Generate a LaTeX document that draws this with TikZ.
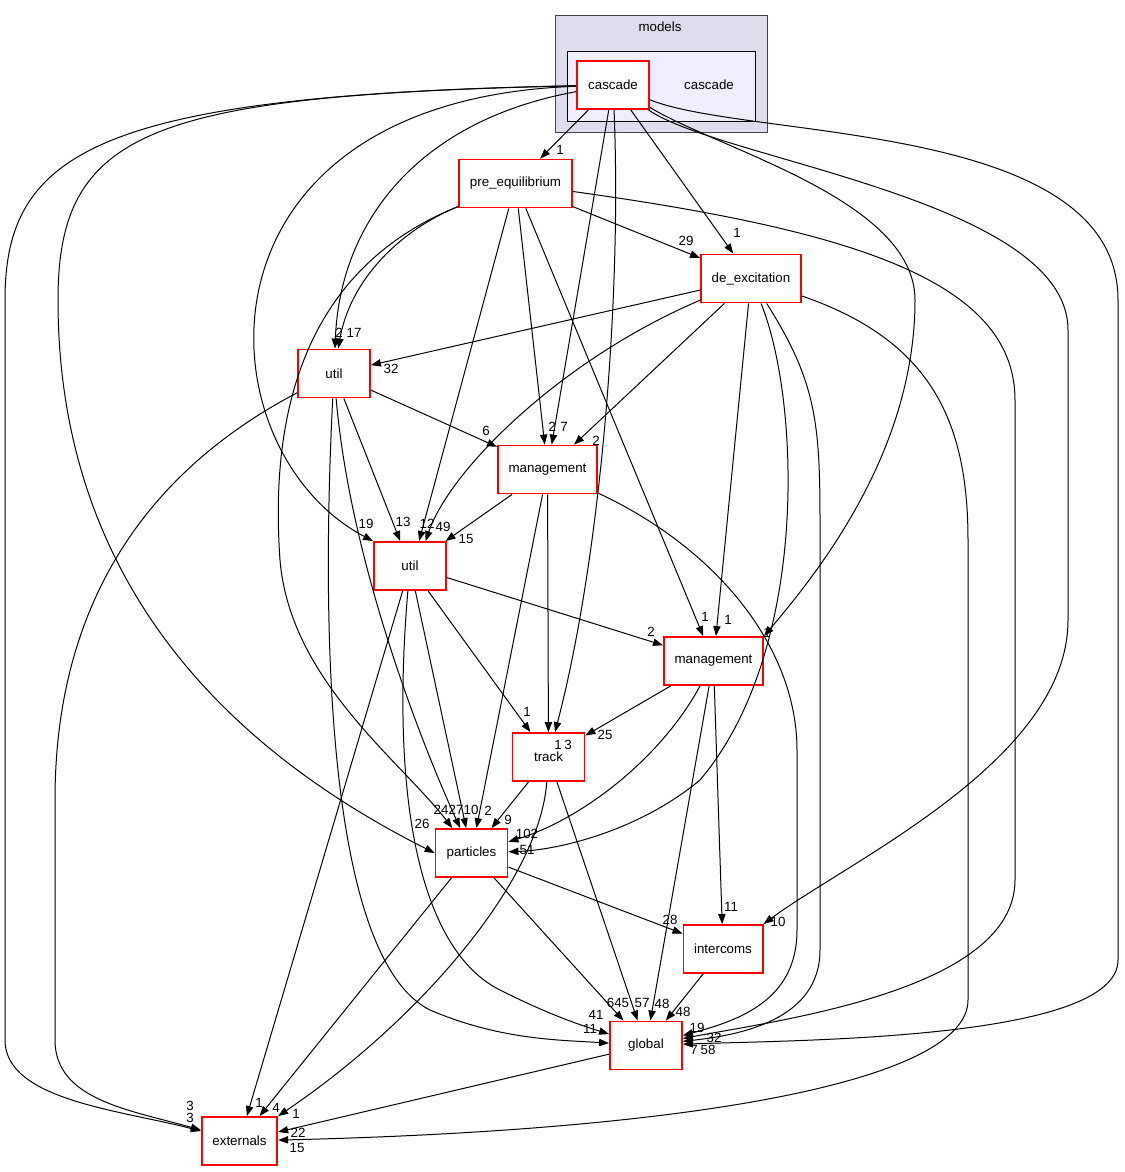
\documentclass[tikz,border=0pt]{standalone}
\usepackage{fontspec}
\setmainfont{Liberation Sans}
\usepackage{tikz}
\usetikzlibrary{arrows.meta}

\definecolor{modelsbg}{RGB}{221,221,238}
\definecolor{cascadebg}{RGB}{238,238,255}
\definecolor{clusterline}{RGB}{68,68,68}
\definecolor{dirline}{RGB}{255,0,0}

\begin{document}
\begin{tikzpicture}[x=0.75pt,y=-0.75pt,
    font=\fontsize{10}{12}\selectfont,
    dirbox/.style={draw=dirline,fill=white,line width=1.4pt,minimum width=54pt,minimum height=36pt,inner xsep=8pt},
    dep/.style={line width=0.75pt,-{Triangle[length=7.5pt,width=5.5pt]}},
    edgelbl/.style={inner sep=0pt}]
    \useasboundingbox (0,0) rectangle (1125,1172);
    \draw[clusterline,fill=modelsbg,line width=0.6pt] (555.5,15.5) rectangle (767.5,132.5);
    \node (modelslbl) at (660,27) {models};
    \draw[black,fill=cascadebg,line width=0.6pt] (567.5,51.5) rectangle (755.5,121.5);
    \node (cascadelbl) at (709,85) {cascade};
    \node[dirbox] (cascade) at (613,85) {cascade};
    \node[dirbox] (pre) at (515.5,183.5) {pre\_equilibrium};
    \node[dirbox] (deex) at (751,278.5) {de\_excitation};
    \node[dirbox] (utilA) at (334,373.5) {util};
    \node[dirbox] (mgmtA) at (547.5,469.5) {management};
    \node[dirbox] (utilB) at (410,566) {util};
    \node[dirbox] (mgmtB) at (713.5,661) {management};
    \node[dirbox] (track) at (548.5,757) {track};
    \node[dirbox] (particles) at (471.5,853) {particles};
    \node[dirbox] (intercoms) at (723,949) {intercoms};
    \node[dirbox] (global) at (646,1045.5) {global};
    \node[dirbox] (externals) at (239.5,1141) {externals};

    \draw[dep] (cascade) -- (pre) node[edgelbl] at (560,150) {1};
    \draw[dep] (cascade) -- (deex) node[edgelbl] at (737,233) {1};
    \draw[dep] (cascade) .. controls (420,120) and (340,220) .. (utilA) node[edgelbl] at (339,333) {2};
    \draw[dep] (cascade) -- (mgmtA) node[edgelbl] at (552,427) {2};
    \draw[dep] (cascade) .. controls (622,300) and (600,560) .. (track) node[edgelbl] at (568,745) {3};
    \draw[dep] (cascade) .. controls (180,100) and (200,450) .. (utilB.north west) node[edgelbl] at (366,524) {19};
    \draw[dep] (cascade) .. controls (150,95) and (58,130) .. (58,300) .. controls (58,600) and (250,760) .. (particles.west) node[edgelbl] at (422,824) {26};
    \draw[dep] (cascade) .. controls (100,95) and (5,150) .. (5,300) -- (5,1040) .. controls (5,1100) and (120,1110) .. (externals) node[edgelbl] at (190,1106) {3};
    \draw[dep] (cascade) .. controls (720,150) and (915,200) .. (915,300) .. controls (915,450) and (820,570) .. (mgmtB.north east) node[edgelbl] at (767,633) {1};
    \draw[dep] (cascade) .. controls (720,160) and (1068,200) .. (1068,330) -- (1068,620) .. controls (1068,760) and (850,860) .. (intercoms.north east) node[edgelbl] at (778,922) {10};
    \draw[dep] (cascade) .. controls (750,140) and (1118,120) .. (1118,300) -- (1118,960) .. controls (1118,1040) and (800,1040) .. (global) node[edgelbl] at (694,1050) {7};

    \draw[dep] (pre) -- (deex) node[edgelbl] at (686,241) {29};
    \draw[dep] (pre) .. controls (400,230) and (350,280) .. (utilA) node[edgelbl] at (354,333) {17};
    \draw[dep] (pre) -- (mgmtA) node[edgelbl] at (564,427) {7};
    \draw[dep] (pre) -- (utilB.70) node[edgelbl] at (427,524) {12};
    \draw[dep] (pre) -- (mgmtB) node[edgelbl] at (705,617) {1};
    \draw[dep] (pre) .. controls (300,270) and (270,420) .. (280,560) .. controls (290,680) and (400,760) .. (particles) node[edgelbl] at (441,810) {24};
    \draw[dep] (pre) .. controls (850,230) and (1015,280) .. (1015,400) -- (1015,880) .. controls (1015,990) and (780,1020) .. (global) node[edgelbl] at (708,1050) {58};

    \draw[dep] (deex) -- (utilA) node[edgelbl] at (391,369) {32};
    \draw[dep] (deex) .. controls (560,360) and (450,470) .. (utilB.58) node[edgelbl] at (443,527) {49};
    \draw[dep] (deex) -- (mgmtA) node[edgelbl] at (596,441) {2};
    \draw[dep] (deex) -- (mgmtB) node[edgelbl] at (728,620) {1};
    \draw[dep] (deex) .. controls (800,400) and (810,650) .. (700,780) .. controls (640,830) and (560,850) .. (particles) node[edgelbl] at (527,850) {51};
    \draw[dep] (deex) .. controls (815,380) and (820,420) .. (820,520) -- (820,950) .. controls (820,1020) and (740,1035) .. (global) node[edgelbl] at (714,1038) {32};
    \draw[dep] (deex) .. controls (930,340) and (968,420) .. (968,540) -- (968,1000) .. controls (968,1080) and (700,1130) .. (externals) node[edgelbl] at (297,1148) {15};

    \draw[dep] (utilA) -- (mgmtA) node[edgelbl] at (486,431) {6};
    \draw[dep] (utilA) -- (utilB) node[edgelbl] at (403,522) {13};
    \draw[dep] (utilA) .. controls (350,560) and (420,740) .. (particles) node[edgelbl] at (456,810) {27};
    \draw[dep] (utilA) .. controls (320,650) and (330,960) .. (430,1010) .. controls (500,1040) and (560,1040) .. (global) node[edgelbl] at (590,1029) {11};
    \draw[dep] (utilA) .. controls (150,470) and (55,600) .. (55,800) -- (55,1040) .. controls (55,1100) and (130,1110) .. (externals) node[edgelbl] at (190,1118) {3};

    \draw[dep] (mgmtA) -- (utilB) node[edgelbl] at (466,539) {15};
    \draw[dep] (mgmtA) -- (track) node[edgelbl] at (558,745) {1};
    \draw[dep] (mgmtA) -- (particles) node[edgelbl] at (488,811) {2};
    \draw[dep] (mgmtA) .. controls (720,550) and (797,650) .. (797,750) -- (797,930) .. controls (797,1000) and (740,1020) .. (global) node[edgelbl] at (697,1028) {19};

    \draw[dep] (utilB) -- (mgmtB) node[edgelbl] at (651,632) {2};
    \draw[dep] (utilB) -- (track) node[edgelbl] at (527,712) {1};
    \draw[dep] (utilB) -- (particles) node[edgelbl] at (471,810) {10};
    \draw[dep] (utilB) .. controls (390,800) and (420,950) .. (500,990) .. controls (550,1015) and (580,1025) .. (global) node[edgelbl] at (596,1015) {41};
    \draw[dep] (utilB) -- (externals) node[edgelbl] at (259,1103) {1};

    \draw[dep] (mgmtB) -- (track) node[edgelbl] at (605,735) {25};
    \draw[dep] (mgmtB) .. controls (660,760) and (580,820) .. (particles) node[edgelbl] at (527,834) {102};
    \draw[dep] (mgmtB) -- (global) node[edgelbl] at (662,1004) {48};
    \draw[dep] (mgmtB) -- (intercoms) node[edgelbl] at (731,907) {11};

    \draw[dep] (track) -- (particles) node[edgelbl] at (508,820) {9};
    \draw[dep] (track) -- (global) node[edgelbl] at (642,1003) {57};
    \draw[dep] (track) .. controls (540,880) and (420,1020) .. (externals.north east) node[edgelbl] at (296,1114) {1};

    \draw[dep] (particles) -- (intercoms) node[edgelbl] at (670,920) {28};
    \draw[dep] (particles) -- (global) node[edgelbl] at (618,1003) {645};
    \draw[dep] (particles) -- (externals) node[edgelbl] at (276,1108) {4};

    \draw[dep] (intercoms) -- (global) node[edgelbl] at (683,1012) {48};
    \draw[dep] (global) -- (externals) node[edgelbl] at (298,1133) {22};
\end{tikzpicture}
\end{document}
